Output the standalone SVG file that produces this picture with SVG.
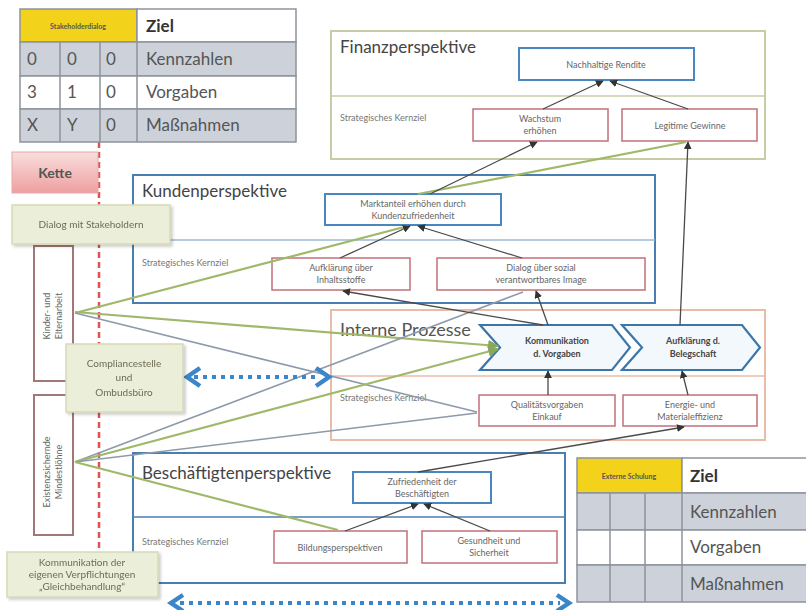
<svg xmlns="http://www.w3.org/2000/svg" width="806" height="610" viewBox="0 0 806 610">
<defs>
<style>
text{font-family:Lato,"Liberation Sans",sans-serif;fill:#555}
.cell{stroke:#8e939b;stroke-width:1.5}
.grey{fill:#cdd2da}
.tt{font-size:17px}
.tb{font-size:17px;font-weight:bold;fill:#333}
.persp{fill:#fff;stroke-width:2}
.title{font-size:17px;fill:#444}
.kz{font-size:9px;fill:#777}
.top{fill:#fff;stroke:#4a86c0;stroke-width:2}
.red{fill:#fff;stroke:#c07078;stroke-width:1.5}
.bt{font-size:9px;fill:#666;text-anchor:middle}
.chev{fill:#f3f8fc;stroke:#3c76a8;stroke-width:2.2}
.ct{font-size:9px;font-weight:bold;fill:#444;text-anchor:middle}
.gbox{fill:#ebeed9;stroke:#d6dab8;stroke-width:1.5}
.gt{font-size:10px;fill:#6d6d55;text-anchor:middle}
.vbox{fill:#fff;stroke:#a07878;stroke-width:2}
.vt{font-size:9px;fill:#666;text-anchor:middle}
.dark{stroke:#4a4a4a;stroke-width:1.3;fill:none;marker-end:url(#ah)}
.green{stroke:#9fb86a;stroke-width:2.2;fill:none}
.gray{stroke:#8d9aab;stroke-width:1.6;fill:none}
.dots{stroke:#3a86c8;stroke-width:4;stroke-dasharray:4 5;fill:none}
.head{stroke:#3a86c8;stroke-width:4.5;fill:none;stroke-linejoin:miter}
</style>
<marker id="ah" viewBox="0 0 10 10" refX="9" refY="5" markerWidth="6" markerHeight="6" orient="auto-start-reverse"><path d="M0,0 L10,5 L0,10 z" fill="#333"/></marker>
<marker id="ahg" viewBox="0 0 10 10" refX="9" refY="5" markerWidth="5" markerHeight="5" orient="auto"><path d="M0,0 L10,5 L0,10 z" fill="#8aa85a"/></marker>
<linearGradient id="kette" x1="0" y1="0" x2="0" y2="1"><stop offset="0" stop-color="#f9dede"/><stop offset="1" stop-color="#ee9f9f"/></linearGradient>
<filter id="sh" x="-10%" y="-10%" width="130%" height="130%"><feDropShadow dx="2" dy="2" stdDeviation="1.5" flood-color="#000" flood-opacity="0.2"/></filter>
</defs>
<rect width="806" height="610" fill="#fff"/>

<!-- red dashed chain line -->
<line x1="99" y1="142" x2="99" y2="553" stroke="#e05252" stroke-width="2.5" stroke-dasharray="6 4"/>

<!-- top-left table -->
<g id="table-stakeholder">
<rect x="20" y="9" width="117" height="33" fill="#f2d21b" class="cell"/>
<rect x="137" y="9" width="159" height="33" fill="#fff" class="cell"/>
<rect x="20" y="42" width="276" height="34" class="grey cell"/>
<rect x="20" y="76" width="276" height="33" fill="#fff" class="cell"/>
<rect x="20" y="109" width="276" height="33" class="grey cell"/>
<line x1="60" y1="42" x2="60" y2="142" class="cell"/>
<line x1="100" y1="42" x2="100" y2="142" class="cell"/>
<line x1="137" y1="42" x2="137" y2="142" class="cell"/>
<text x="78" y="29" font-size="7" font-weight="bold" fill="#555" text-anchor="middle">Stakeholderdialog</text>
<text x="146" y="32" class="tb">Ziel</text>
<text x="27" y="65" class="tt">0</text><text x="67" y="65" class="tt">0</text><text x="106" y="65" class="tt">0</text><text x="146" y="65" class="tt">Kennzahlen</text>
<text x="27" y="98" class="tt">3</text><text x="67" y="98" class="tt">1</text><text x="106" y="98" class="tt">0</text><text x="146" y="98" class="tt">Vorgaben</text>
<text x="27" y="131" class="tt">X</text><text x="67" y="131" class="tt">Y</text><text x="106" y="131" class="tt">0</text><text x="146" y="131" class="tt">Maßnahmen</text>
</g>

<g id="kette">
<rect x="12" y="152" width="86" height="41" fill="url(#kette)" stroke="#e8a8a8" stroke-width="1"/>
<text x="55" y="178" font-size="14" font-weight="bold" fill="#555" text-anchor="middle">Kette</text>
</g>

<!-- perspectives -->
<g id="finanzperspektive">
<rect x="331" y="31" width="434" height="128" class="persp" stroke="#c8cca6"/>
<line x1="331" y1="96" x2="765" y2="96" stroke="#c8cca6" stroke-width="1.5"/>
<text x="340" y="53" class="title">Finanzperspektive</text>
<text x="340" y="121" class="kz">Strategisches Kernziel</text>
</g>
<g id="kundenperspektive">
<rect x="133" y="175" width="522" height="128" class="persp" stroke="#4a7eb0"/>
<line x1="133" y1="240" x2="655" y2="240" stroke="#9db9d4" stroke-width="1.5"/>
<text x="142" y="197" class="title">Kundenperspektive</text>
<text x="142" y="266" class="kz">Strategisches Kernziel</text>
</g>
<g id="interne-prozesse">
<rect x="331" y="310" width="434" height="130" class="persp" stroke="#e8bca6"/>
<line x1="331" y1="376" x2="765" y2="376" stroke="#e8bca6" stroke-width="1.5"/>
<text x="340" y="336" font-size="18" fill="#444">Interne Prozesse</text>
<text x="340" y="401" class="kz">Strategisches Kernziel</text>
</g>
<g id="beschaeftigtenperspektive">
<rect x="133" y="453" width="432" height="130" class="persp" stroke="#4a7eb0"/>
<line x1="133" y1="517" x2="565" y2="517" stroke="#4a7eb0" stroke-width="1.5"/>
<text x="142" y="479" class="title">Beschäftigtenperspektive</text>
<text x="142" y="545" class="kz">Strategisches Kernziel</text>
</g>

<!-- goal boxes -->
<g id="nachhaltige-rendite"><rect x="519" y="48" width="175" height="32" class="top"/><text x="606" y="68" class="bt" font-size="10">Nachhaltige Rendite</text></g>
<g id="wachstum"><rect x="473" y="109" width="135" height="32" class="red"/><text x="540" y="122" class="bt">Wachstum</text><text x="540" y="134" class="bt">erhöhen</text></g>
<g id="legitime-gewinne"><rect x="622" y="109" width="135" height="32" class="red"/><text x="690" y="129" class="bt">Legitime Gewinne</text></g>
<g id="marktanteil"><rect x="325" y="194" width="176" height="31" class="top"/><text x="413" y="207" class="bt">Marktanteil erhöhen durch</text><text x="413" y="219" class="bt">Kundenzufriedenheit</text></g>
<g id="aufklaerung-inhaltsstoffe"><rect x="272" y="258" width="138" height="32" class="red"/><text x="341" y="271" class="bt">Aufklärung über</text><text x="341" y="283" class="bt">Inhaltsstoffe</text></g>
<g id="dialog-image"><rect x="437" y="258" width="208" height="32" class="red"/><text x="541" y="271" class="bt">Dialog über sozial</text><text x="541" y="283" class="bt">verantwortbares Image</text></g>
<g id="kommunikation-vorgaben"><path d="M480,325 L612,325 L630,347.5 L612,370 L480,370 L500,347.5 Z" class="chev"/><text x="557" y="344" class="ct">Kommunikation</text><text x="557" y="357" class="ct">d. Vorgaben</text></g>
<g id="aufklaerung-belegschaft"><path d="M622,325 L742,325 L760,347.5 L742,370 L622,370 L642,347.5 Z" class="chev"/><text x="693" y="344" class="ct">Aufklärung d.</text><text x="693" y="357" class="ct">Belegschaft</text></g>
<g id="qualitaetsvorgaben"><rect x="479" y="395" width="136" height="31" class="red"/><text x="547" y="408" class="bt">Qualitätsvorgaben</text><text x="547" y="420" class="bt">Einkauf</text></g>
<g id="energie"><rect x="623" y="395" width="134" height="31" class="red"/><text x="690" y="408" class="bt">Energie- und</text><text x="690" y="420" class="bt">Materialeffizienz</text></g>
<g id="zufriedenheit"><rect x="353" y="472" width="138" height="31" class="top"/><text x="422" y="485" class="bt">Zufriedenheit der</text><text x="422" y="497" class="bt">Beschäftigten</text></g>
<g id="bildungsperspektiven"><rect x="274" y="531" width="133" height="32" class="red"/><text x="340" y="551" class="bt">Bildungsperspektiven</text></g>
<g id="gesundheit"><rect x="422" y="531" width="135" height="32" class="red"/><text x="489" y="544" class="bt">Gesundheit und</text><text x="489" y="556" class="bt">Sicherheit</text></g>

<!-- left vertical boxes -->
<g id="kinder-elternarbeit"><rect x="34" y="246" width="39" height="135" class="vbox"/><text transform="translate(53,316) rotate(-90)" class="vt"><tspan x="0" y="-3">Kinder- und</tspan><tspan x="0" y="9">Elternarbeit</tspan></text></g>
<g id="existenzsichernde-mindestloehne"><rect x="34" y="395" width="39" height="140" class="vbox"/><text transform="translate(53,472) rotate(-90)" class="vt"><tspan x="0" y="-3">Existenzsichernde</tspan><tspan x="0" y="9">Mindestlöhne</tspan></text></g>

<!-- connectors -->
<g id="connectors">
<line x1="75" y1="313" x2="408" y2="226" class="green"/>
<line x1="75" y1="312" x2="498" y2="346" class="green" marker-end="url(#ahg)"/>
<line x1="75" y1="313" x2="477" y2="412" class="gray"/>
<line x1="75" y1="462" x2="523" y2="292" class="gray"/>
<line x1="75" y1="462" x2="498" y2="349" class="green" marker-end="url(#ahg)"/>
<line x1="75" y1="462" x2="477" y2="413" class="gray"/>
<line x1="75" y1="462" x2="338" y2="530" class="green"/>
<line x1="418" y1="194" x2="686" y2="142" class="green"/>
<line x1="543" y1="109" x2="603" y2="81" class="dark"/>
<line x1="688" y1="109" x2="610" y2="81" class="dark"/>
<line x1="430" y1="194" x2="537" y2="142" class="dark"/>
<line x1="340" y1="258" x2="410" y2="226" class="dark"/>
<line x1="522" y1="258" x2="418" y2="226" class="dark"/>
<line x1="543" y1="325" x2="343" y2="291" class="dark"/>
<line x1="548" y1="325" x2="536" y2="291" class="dark"/>
<line x1="680" y1="325" x2="688" y2="142" class="dark"/>
<line x1="548" y1="395" x2="548" y2="371" class="dark"/>
<line x1="688" y1="395" x2="682" y2="371" class="dark"/>
<line x1="345" y1="531" x2="418" y2="504" class="dark"/>
<line x1="490" y1="531" x2="424" y2="504" class="dark"/>
<line x1="418" y1="472" x2="684" y2="427" class="dark"/>
<!-- dotted double arrows -->
<line x1="194" y1="377" x2="320" y2="377" class="dots"/>
<polyline points="200,368 187,377 200,386" class="head"/>
<polyline points="316,368 329,377 316,386" class="head"/>
<line x1="180" y1="603" x2="560" y2="603" class="dots"/>
<polyline points="183,595 171,603 183,611" class="head"/>
<polyline points="557,595 569,603 557,611" class="head"/>
</g>

<!-- green note boxes -->
<g id="dialog-stakeholdern" filter="url(#sh)"><rect x="12" y="205" width="158" height="39" class="gbox"/><text x="91" y="228" class="gt">Dialog mit Stakeholdern</text></g>
<g id="compliancestelle" filter="url(#sh)"><rect x="66" y="344" width="117" height="68" class="gbox"/><text x="124" y="367" class="gt">Compliancestelle</text><text x="124" y="381" class="gt">und</text><text x="124" y="396" class="gt">Ombudsbüro</text></g>
<g id="kommunikation-verpflichtungen" filter="url(#sh)"><rect x="7" y="552" width="151" height="45" class="gbox"/><text x="82" y="566" class="gt" font-size="9">Kommunikation der</text><text x="82" y="578" class="gt" font-size="9">eigenen Verpflichtungen</text><text x="82" y="590" class="gt" font-size="9">„Gleichbehandlung“</text></g>

<!-- bottom-right table -->
<g id="table-schulung">
<rect x="577" y="458" width="105" height="35" fill="#f2d21b" class="cell"/>
<rect x="682" y="458" width="130" height="35" fill="#fff" class="cell"/>
<rect x="577" y="493" width="235" height="37" class="grey cell"/>
<rect x="577" y="530" width="235" height="35" fill="#fff" class="cell"/>
<rect x="577" y="565" width="235" height="37" class="grey cell"/>
<line x1="610" y1="493" x2="610" y2="602" class="cell"/>
<line x1="645" y1="493" x2="645" y2="602" class="cell"/>
<line x1="682" y1="493" x2="682" y2="602" class="cell"/>
<text x="629" y="479" font-size="7" font-weight="bold" fill="#555" text-anchor="middle">Externe Schulung</text>
<text x="690" y="482" class="tb">Ziel</text>
<text x="690" y="518" class="tt">Kennzahlen</text>
<text x="690" y="553" class="tt">Vorgaben</text>
<text x="690" y="590" class="tt">Maßnahmen</text>
</g>
</svg>
